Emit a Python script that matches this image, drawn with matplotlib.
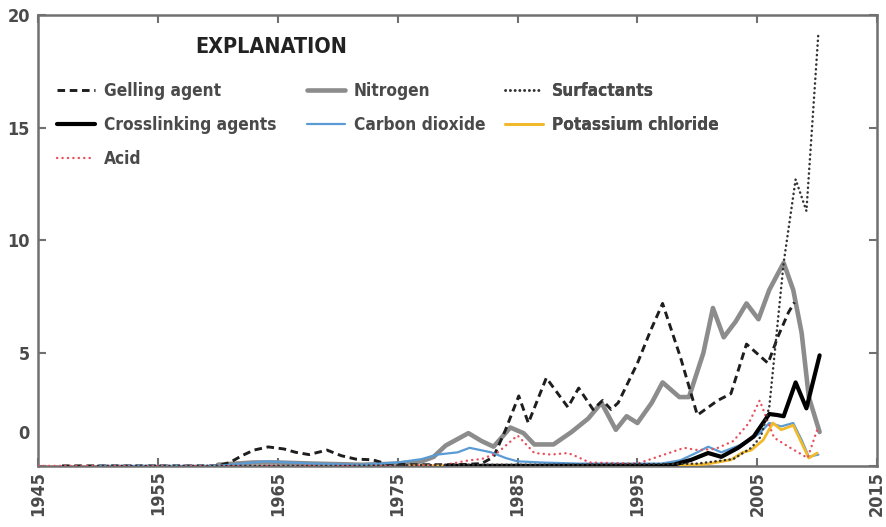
import matplotlib
matplotlib.use("Agg")
import matplotlib.pyplot as plt
from matplotlib.font_manager import findfont, FontProperties
from matplotlib.transforms import ScaledTranslation

# series values, read as (year, value) pairs
gel_year = [1947, 1960, 1961, 1962, 1963, 1964.2, 1965.5, 1966.5, 1967.6, 1969.1, 1970.3,
            1971.5, 1972.9, 1974, 1976, 1980, 1982, 1983, 1984, 1985.1, 1985.9, 1987.4,
            1989.2, 1990.1, 1991.3, 1992.1, 1992.8, 1993.4, 1995, 1996.1, 1997.1, 1998.6,
            2000, 2001.7, 2002.8, 2004.1, 2005.9, 2006.7, 2007.6, 2008.1]
gel_val = [0, 0, 0.15, 0.45, 0.7, 0.84, 0.75, 0.6, 0.5, 0.7, 0.45,
           0.3, 0.27, 0.1, 0.05, 0.05, 0.1, 0.4, 1.6, 3.1, 1.9, 3.9,
           2.6, 3.45, 2.5, 2.9, 2.5, 2.8, 4.55, 6.0, 7.2, 4.8,
           2.25, 2.9, 3.2, 5.4, 4.55, 5.7, 6.8, 7.25]

nit_year = [1960, 1963, 1965, 1968, 1972, 1975, 1977, 1978, 1979, 1980.9, 1982, 1983,
            1984.4, 1985.5, 1986.4, 1988, 1989.5, 1990.9, 1992, 1993.2, 1994.1, 1995, 1996.2,
            1997.1, 1998.5, 1999.3, 2000.5, 2001.3, 2002.2, 2003.2, 2004.1, 2005.1, 2006,
            2007.2, 2008, 2008.7, 2009.3, 2010.2]
nit_val = [0.05, 0.15, 0.15, 0.1, 0.05, 0.1, 0.2, 0.4, 0.9, 1.45, 1.1, 0.85,
           1.7, 1.45, 0.95, 0.95, 1.5, 2.1, 2.8, 1.6, 2.2, 1.9, 2.8,
           3.7, 3.05, 3.05, 5.0, 7.0, 5.7, 6.4, 7.2, 6.5, 7.8,
           9.0, 7.8, 5.9, 3.05, 1.5]

surf_year = [1950, 1970, 1980, 1990, 2000, 2003, 2004.5, 2005.3, 2006, 2007.2, 2008.2, 2009.1, 2010.1]
surf_val = [0, 0, 0.05, 0.05, 0.1, 0.3, 0.8, 1.3, 2.6, 9.0, 12.7, 11.3, 19.2]

cross_year = [1979, 1990, 1997, 1998, 1999.5, 2000.9, 2002, 2003.4, 2004.7, 2006, 2006.7,
              2007.2, 2008.2, 2009.1, 2010.2]
cross_val = [0, 0, 0, 0.05, 0.27, 0.57, 0.4, 0.8, 1.3, 2.3, 2.25,
             2.2, 3.7, 2.55, 4.9]

co2_year = [1950, 1960, 1962, 1964, 1966, 1968, 1972, 1975, 1977, 1978.3, 1980, 1981,
            1982.8, 1984, 1985, 1987, 1990, 1995, 1997, 1998.6, 2000, 2000.9, 2002, 2003.6,
            2005.1, 2006, 2007, 2008, 2008.7, 2009.3, 2010.1]
co2_val = [0, 0, 0.1, 0.2, 0.15, 0.1, 0.05, 0.15, 0.3, 0.5, 0.6, 0.8,
           0.6, 0.35, 0.2, 0.15, 0.1, 0.1, 0.1, 0.25, 0.6, 0.85, 0.6, 0.93,
           1.4, 1.9, 1.75, 1.9, 1.15, 0.4, 0.5]

kcl_year = [1976, 1985, 1995, 2000, 2001, 2002.8, 2003.8, 2004.5, 2005.5, 2006.3, 2007,
            2008, 2009.3, 2010]
kcl_val = [0, 0, 0, 0.05, 0.1, 0.27, 0.6, 0.7, 1.15, 1.9, 1.6,
           1.8, 0.35, 0.57]

acid_year = [1945, 1975, 1979, 1981, 1982, 1983.3, 1985, 1986.4, 1987.8, 1989.2, 1990,
             1991, 1995, 1997.8, 1998.9, 2000, 2001.5, 2003, 2004.3, 2005.2, 2006.4,
             2007.6, 2009.2, 2010]
acid_val = [0, 0, 0.05, 0.25, 0.3, 0.57, 1.35, 0.57, 0.5, 0.57, 0.4,
            0.15, 0.1, 0.6, 0.8, 0.7, 0.75, 1.1, 1.9, 2.9, 1.25,
            0.85, 0.35, 1.6]

x_ticks = [1945, 1955, 1965, 1975, 1985, 1995, 2005, 2015]
y_ticks = [0, 5, 10, 15, 20]

# narrow bold face for all text; fall back to smaller sizes if no condensed face
plt.rcParams["font.family"] = "DejaVu Sans"
plt.rcParams["font.weight"] = "bold"
plt.rcParams["font.stretch"] = "condensed"
cond = "Condensed" in findfont(FontProperties(family="DejaVu Sans", weight="bold",
                                              stretch="condensed"))
tick_fs, leg_fs, head_fs = (13, 12.4, 15.5) if cond else (11.5, 10.8, 13.5)
text_col = "#4a4a4a"
axis_col = "#707070"

fig = plt.figure(figsize=(8.86, 5.27), dpi=100)
ax = fig.add_axes([0.043, 0.116, 0.947, 0.856])

line_kw = dict(solid_joinstyle="round", solid_capstyle="round")
gel, = ax.plot(gel_year, gel_val, color="#1e1e1e", lw=2.1, dashes=(2.6, 1.6), zorder=4,
               dash_joinstyle="round", label="Gelling agent")
nit, = ax.plot(nit_year, nit_val, color="#8c8c8c", lw=3.3, zorder=3, label="Nitrogen", **line_kw)
co2, = ax.plot(co2_year, co2_val, color="#5b9bd5", lw=1.6, zorder=5, label="Carbon dioxide",
               **line_kw)
kcl, = ax.plot(kcl_year, kcl_val, color="#f2b92a", lw=2.0, zorder=6, label="Potassium chloride",
               **line_kw)
acid, = ax.plot(acid_year, acid_val, color="#e8505b", lw=1.7, ls=(0, (0.1, 2.2)), zorder=7,
                dash_capstyle="round", label="Acid")
cross, = ax.plot(cross_year, cross_val, color="black", lw=3.0, zorder=8,
                 label="Crosslinking agents", **line_kw)
surf, = ax.plot(surf_year, surf_val, color="#333333", lw=1.8, ls=(0, (0.1, 1.8)), zorder=9,
                dash_capstyle="round", label="Surfactants")

ax.set_xlim(1945, 2015)
ax.set_ylim(0, 20)
ax.set_xticks(x_ticks)
ax.set_yticks(y_ticks)
ax.set_xticklabels([str(y) for y in x_ticks], rotation=90)
ax.tick_params(direction="in", length=6, width=1.5, color=axis_col, top=True, right=True,
               labelsize=tick_fs, labelcolor=text_col)
ax.tick_params(axis="y", pad=6)
for s in ax.spines.values():
    s.set_color(axis_col)
    s.set_linewidth(1.8)

# the zero label sits above the baseline
zero = ax.get_yticklabels()[0]
zero.set_transform(zero.get_transform() + ScaledTranslation(0, 0.34, fig.dpi_scale_trans))

ax.text(0.187, 0.929, "EXPLANATION", transform=ax.transAxes, fontsize=head_fs,
        color="#222222", va="center", ha="left")

legend_kw = dict(frameon=False, fontsize=leg_fs, handlelength=2.2, handletextpad=0.5,
                 labelspacing=0.93, borderpad=0, borderaxespad=0, loc="upper left",
                 labelcolor=text_col)
columns = [([gel, cross, acid], 0.0226), ([nit, co2], 0.3206), ([surf, kcl], 0.5566)]
for handles, x0 in columns:
    leg = ax.legend(handles=handles, bbox_to_anchor=(x0, 0.851), **legend_kw)
    ax.add_artist(leg)

fig.savefig("out.png", dpi=100)
